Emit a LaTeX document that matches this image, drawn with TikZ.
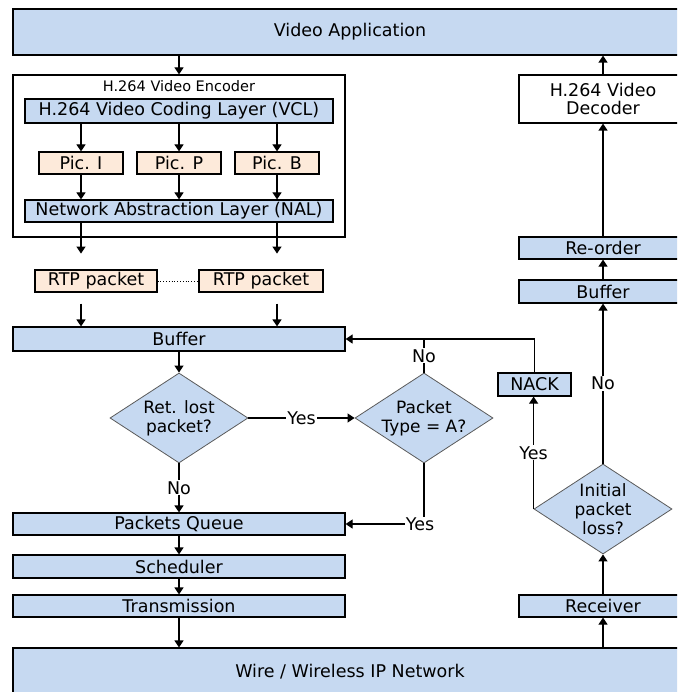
\documentclass[tikz,border=0pt]{standalone}
\usepackage{fontspec}
\setmainfont{DejaVu Sans}
\usepackage{tikz}
\usetikzlibrary{arrows.meta, shapes, positioning}
\definecolor{boxblue}{RGB}{198,217,241}
\definecolor{boxpeach}{RGB}{253,234,218}
\definecolor{edgegray}{RGB}{90,90,90}

\begin{document}
\begin{tikzpicture}[x=1pt, y=-1pt, on grid, node distance=40pt, line width=1.2pt,
	font=\fontsize{17.5}{19}\selectfont,
	layerbox/.style={draw, fill=boxblue, minimum height=22pt, inner sep=0pt},
	picbox/.style={draw, fill=boxpeach, minimum width=84pt, minimum height=22pt, inner sep=0pt},
	decision/.style={diamond, draw=edgegray, line width=0.8pt, fill=boxblue, minimum width=138pt, minimum height=90pt, aspect=1.53, inner sep=-2pt, align=center, font=\fontsize{17}{19}\selectfont},
	arr/.style={-{Triangle[length=7pt,width=9pt]}},
	lbl/.style={fill=white, inner sep=1pt}]
	\useasboundingbox (0,0) rectangle (677,692);
	\clip (0,0) rectangle (677,692);
	\node[layerbox, minimum width=674pt, minimum height=46pt] (va) at (350,32) {Video Application};
	\node[draw, fill=white, minimum width=332pt, minimum height=162pt, below left = 124pt and 171pt of va] (enc) {};
	\node[layerbox, minimum width=308pt, minimum height=24pt, above = 45pt of enc] (vcl) {H.264 Video Coding Layer (VCL)};
	\node[font=\fontsize{14.5}{16}\selectfont, inner sep=0pt, above = 25pt of vcl] (enctitle) {H.264 Video Encoder};
	\node[picbox, below = 52pt of vcl] (picP) {Pic. P};
	\node[picbox, left = 98pt of picP] (picI) {Pic. I};
	\node[picbox, right = 98pt of picP] (picB) {Pic. B};
	\node[layerbox, minimum width=308pt, below = 48pt of picP] (nal) {Network Abstraction Layer (NAL)};
	\node[picbox, minimum width=122pt, below left = 70pt and 83pt of nal] (rtpA) {RTP packet};
	\node[picbox, minimum width=124pt, right = 165pt of rtpA] (rtpB) {RTP packet};
	\node[layerbox, minimum width=332pt, minimum height=24pt, below = 128pt of nal] (buf) {Buffer};
	\node[decision, below = 79pt of buf] (ret) {Ret. lost\\packet?};
	\node[decision, right = 245pt of ret] (ptype) {Packet\\Type = A?};
	\node[layerbox, minimum width=332pt, below = 106pt of ret] (queue) {Packets Queue};
	\node[layerbox, minimum width=332pt, minimum height=23pt, below = 42.5pt of queue] (sched) {Scheduler};
	\node[layerbox, minimum width=332pt, below = 39.5pt of sched] (trans) {Transmission};
	\node[layerbox, minimum width=674pt, minimum height=48pt, below right = 66pt and 171pt of trans] (net) {Wire / Wireless IP Network};
	\node[layerbox, minimum width=168pt, above right = 66pt and 253pt of net] (recv) {Receiver};
	\node[decision, above = 97pt of recv] (loss) {Initial\\packet\\loss?};
	\node[layerbox, minimum width=73pt, minimum height=23pt, above left = 124.5pt and 68.5pt of loss] (nack) {NACK};
	\node[layerbox, minimum width=168pt, minimum height=23pt, above = 217.5pt of loss] (rbuf) {Buffer};
	\node[layerbox, minimum width=168pt, above = 43.5pt of rbuf] (reorder) {Re-order};
	\node[draw, fill=white, minimum width=168pt, minimum height=48pt, inner sep=0pt, align=center, font=\fontsize{17.5}{18}\selectfont, above = 149pt of reorder] (dec) {H.264 Video\\Decoder};
	
	\path (nal.south -| picI) ++(0,31) coordinate (nalL)
		(nal.south -| picB) ++(0,31) coordinate (nalR)
		(rtpA.south -| picI) ++(0,11) coordinate (rtpL)
		(rtpB.south -| picB) ++(0,11) coordinate (rtpR);
	
	\draw[arr] (va.south -| enc) -- (enc);
	\foreach \p in {picI, picP, picB} {
		\draw[arr] (vcl.south -| \p) -- (\p);
		\draw[arr] (\p) -- (nal.north -| \p);
	}
	\draw[arr] (nal.south -| picI) -- (nalL);
	\draw[arr] (nal.south -| picB) -- (nalR);
	\draw[dotted, line width=0.8pt] (rtpA) -- (rtpB);
	\draw[arr] (rtpL) -- (buf.north -| rtpL);
	\draw[arr] (rtpR) -- (buf.north -| rtpR);
	\draw[arr] (buf) -- (ret);
	\draw[arr] (ret) -- node[lbl] {Yes} (ptype);
	\draw[arr] (ret) -- node[lbl] {No} (queue);
	\draw[arr] (ptype) |- node[lbl, xshift=-4pt] {Yes} (queue);
	\draw (ptype) -- node[lbl] {No} (ptype |- buf);
	\draw[arr] (nack) |- (buf);
	\draw[arr] (queue) -- (sched);
	\draw[arr] (sched) -- (trans);
	\draw[arr] (trans) -- (trans |- net.north);
	\draw[arr] (net.north -| recv) -- (recv);
	\draw[arr] (recv) -- (loss);
	\draw[arr] (loss.west) -- node[lbl] {Yes} (loss.west |- nack.south);
	\draw[arr] (loss) -- node[lbl] {No} (rbuf);
	\draw[arr] (rbuf) -- (reorder);
	\draw[arr] (reorder) -- (dec);
	\draw[arr] (dec) -- (dec |- va.south);
\end{tikzpicture}
\end{document}
